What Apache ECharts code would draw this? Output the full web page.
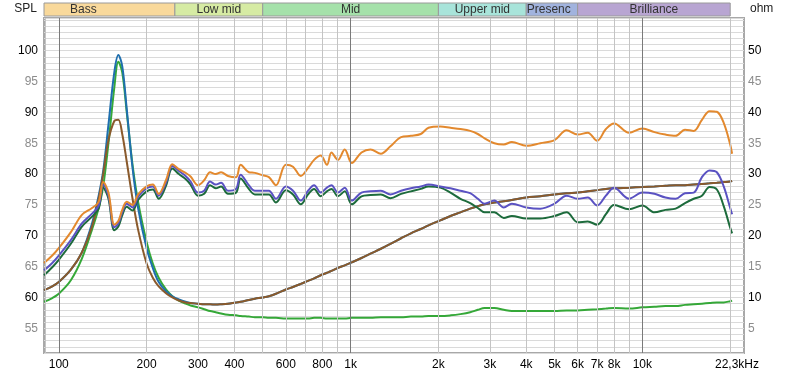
<!DOCTYPE html>
<html>
<head>
<meta charset="utf-8">
<script src="https://cdn.jsdelivr.net/npm/echarts@6/dist/echarts.min.js"></script>
<style>
html, body { margin: 0; padding: 0; background: #fff; }
#chart { width: 800px; height: 376px; }
</style>
</head>
<body>
<div id="chart"></div>
<script>
// frequency points (Hz) shared by every curve
var freqs = [
    89, 95, 100, 110, 120, 130, 137, 142, 148, 155,
    160, 165, 171, 179, 187, 200, 210, 220, 233, 245,
    258, 272, 283, 300, 315, 330, 345, 360, 380, 405,
    420, 448, 470, 500, 525, 555, 600, 635, 675, 715,
    750, 790, 830, 860, 905, 955, 1010, 1090, 1170, 1270,
    1370, 1490, 1610, 1740, 1850, 2030, 2200, 2380, 2570, 2730,
    2880, 3110, 3350, 3570, 4000, 4470, 5000, 5500, 6000, 6500,
    7000, 7500, 8000, 9000, 10000, 11000, 12000, 13000, 14000, 15000,
    16000, 17000, 18000, 19000, 20000, 20300
];

// SPL curves (dB)
var splOrange = [
    65.6, 66.8, 68.0, 70.6, 73.4, 74.5, 75.5, 78.7, 77.0, 71.8,
    72.4, 74.2, 75.5, 75.0, 76.7, 78.0, 78.3, 76.8, 79.0, 81.6,
    80.8, 80.2, 79.6, 78.2, 79.0, 80.3, 80.0, 80.3, 79.7, 79.5,
    81.5, 80.3, 80.2, 79.8, 79.5, 78.2, 81.5, 81.2, 79.7, 81.0,
    82.3, 83.0, 81.5, 83.5, 82.3, 84.0, 81.8, 83.5, 84.0, 83.3,
    84.5, 86.0, 86.2, 86.5, 87.5, 87.7, 87.5, 87.3, 87.0, 86.5,
    85.8, 85.0, 84.8, 85.2, 84.6, 85.0, 85.5, 87.1, 86.4, 86.7,
    85.4, 87.3, 88.2, 86.7, 87.4, 86.8, 86.4, 86.2, 87.2, 87.0,
    88.8, 90.2, 90.1, 88.3, 84.8, 83.3
];
var splPurple = [
    64.4, 65.6, 66.8, 69.3, 72.0, 73.6, 74.9, 78.3, 76.5, 71.4,
    72.0, 73.8, 75.2, 74.6, 76.3, 77.7, 78.0, 76.5, 78.6, 81.3,
    80.5, 79.7, 78.8, 77.0, 77.3, 78.8, 78.3, 78.6, 77.3, 77.6,
    79.9, 78.2, 77.3, 77.3, 77.3, 76.0, 78.0, 77.3, 75.7, 77.3,
    78.2, 77.0, 77.8, 78.2, 77.0, 77.8, 75.7, 77.0, 77.2, 77.3,
    76.7, 77.3, 77.7, 78.0, 78.3, 78.0, 77.7, 77.3, 76.9, 76.0,
    75.2, 75.7, 74.6, 75.2, 74.6, 74.4, 75.2, 76.5, 76.0, 76.2,
    74.9, 76.5, 77.8, 76.0, 77.0, 76.8, 76.2, 76.0, 76.9, 77.0,
    79.5, 80.6, 80.3, 78.0, 74.5, 73.5
];
var splGreen = [
    63.6, 64.9, 66.1, 68.7, 71.5, 73.1, 74.4, 77.8, 76.0, 70.9,
    71.5, 73.3, 74.7, 74.1, 75.8, 77.2, 77.5, 76.0, 78.1, 80.9,
    80.0, 79.2, 78.3, 76.5, 76.8, 78.2, 77.7, 78.0, 76.8, 77.0,
    79.3, 77.6, 76.7, 76.7, 76.7, 75.4, 77.4, 76.7, 75.1, 76.7,
    77.6, 76.4, 77.2, 77.6, 76.4, 77.2, 75.1, 76.4, 76.6, 76.7,
    76.1, 76.8, 77.2, 77.6, 78.0, 77.8, 77.0, 76.0, 75.3, 74.5,
    73.8, 73.8, 72.9, 73.2, 72.8, 72.8, 73.2, 73.8, 72.2, 72.3,
    71.8, 73.5, 75.0, 74.3, 74.9, 73.8, 74.2, 74.4, 75.3, 76.0,
    76.5, 77.9, 77.5, 74.8, 71.3, 70.4
];

// impedance curves (ohm)
var zLightGreen = [
    9.3, 9.9, 10.6, 12.8, 16.3, 21.0, 24.5, 28.0, 35.0, 44.0,
    48.2, 46.5, 40.0, 31.5, 25.5, 19.0, 15.5, 13.2, 11.3, 10.2,
    9.5, 9.0, 8.7, 8.4, 8.1, 7.8, 7.6, 7.4, 7.2, 7.1,
    7.0, 6.9, 6.8, 6.8, 6.7, 6.7, 6.6, 6.6, 6.6, 6.6,
    6.7, 6.7, 6.6, 6.6, 6.6, 6.6, 6.7, 6.7, 6.7, 6.8,
    6.8, 6.8, 6.9, 6.9, 7.0, 7.0, 7.1, 7.3, 7.6, 8.0,
    8.3, 8.3, 8.0, 7.8, 7.8, 7.8, 7.8, 7.9, 7.9, 8.0,
    8.1, 8.2, 8.3, 8.2, 8.4, 8.5, 8.6, 8.6, 8.8, 8.9,
    9.0, 9.1, 9.2, 9.2, 9.4, 9.5
];
var zTeal = [
    11.2, 11.8, 12.5, 14.5, 17.3, 22.0, 26.5, 30.5, 38.0, 46.5,
    49.3, 47.5, 40.5, 31.0, 24.5, 18.0, 14.8, 12.5, 11.0, 10.2,
    9.7, 9.3, 9.1, 9.0, 8.9, 8.9, 8.85, 8.9, 9.0, 9.2,
    9.3, 9.6, 9.8, 10.0, 10.2, 10.6, 11.3, 11.7, 12.2, 12.7,
    13.1, 13.6, 14.0, 14.3, 14.8, 15.2, 15.7, 16.4, 17.1, 17.9,
    18.7, 19.6, 20.4, 21.1, 21.7, 22.5, 23.2, 23.8, 24.4, 24.8,
    25.1, 25.4, 25.6, 25.8, 26.2, 26.4, 26.7, 26.9, 27.0, 27.2,
    27.4, 27.6, 27.7, 27.8, 27.9, 28.0, 28.1, 28.2, 28.2, 28.3,
    28.4, 28.5, 28.6, 28.7, 28.8, 28.9
];
var zBrown = [
    11.2, 11.8, 12.5, 14.5, 17.3, 21.5, 26.0, 30.0, 35.5, 38.6,
    38.8, 36.5, 32.0, 26.0, 21.0, 15.5, 13.2, 11.8, 10.7, 10.0,
    9.5, 9.2, 9.1, 9.0, 8.9, 8.9, 8.85, 8.9, 9.0, 9.2,
    9.3, 9.6, 9.8, 10.0, 10.2, 10.6, 11.3, 11.7, 12.2, 12.7,
    13.1, 13.6, 14.0, 14.3, 14.8, 15.2, 15.7, 16.4, 17.1, 17.9,
    18.7, 19.6, 20.4, 21.1, 21.7, 22.5, 23.2, 23.8, 24.4, 24.8,
    25.1, 25.4, 25.6, 25.8, 26.2, 26.4, 26.7, 26.9, 27.0, 27.2,
    27.4, 27.6, 27.7, 27.8, 27.9, 28.0, 28.1, 28.2, 28.2, 28.3,
    28.4, 28.5, 28.6, 28.7, 28.8, 28.9
];

// frequency bands shown above the plot
var bandNames = ['Bass', 'Low mid', 'Mid', 'Upper mid', 'Presence', 'Brilliance'];
var bandEdges = [89, 250, 500, 2000, 4000, 6000, 20000];
var bandColors = ['#f9d99b', '#d6eba3', '#a5e1aa', '#a8e4da', '#a1b3de', '#b8a5d2'];

// axis ticks
var xLabels = [100, 200, 300, 400, 600, 800, 1000, 2000, 3000, 4000, 5000, 6000, 7000, 8000, 10000, 22300];
var xGridLines = [90, 100, 200, 300, 400, 500, 600, 700, 800, 900, 1000,
    2000, 3000, 4000, 5000, 6000, 7000, 8000, 9000, 10000, 20000];
var splLabels = [55, 60, 65, 70, 75, 80, 85, 90, 95, 100];
var ohmLabels = [5, 10, 15, 20, 25, 30, 35, 40, 45, 50];

var FONT = 'Liberation Sans, Arial, sans-serif';

function pairs(vals) {
    return freqs.map(function (f, i) { return [f, vals[i]]; });
}

function line(name, vals, color, yIdx) {
    return {
        name: name,
        type: 'line',
        xAxisIndex: 0,
        yAxisIndex: yIdx,
        data: pairs(vals),
        smooth: 0.35,
        symbol: 'none',
        silent: true,
        lineStyle: { color: color, width: 2 }
    };
}

var chart = echarts.init(document.getElementById('chart'));

var bandAreas = bandNames.map(function (n, i) {
    var lbl = { show: true, position: 'inside', color: '#333', fontFamily: FONT, fontSize: 12 };
    if (n === 'Bass') lbl.offset = [-26, 0];
    if (n === 'Presence') {
        lbl.position = 'insideLeft';
        lbl.distance = 1;
        lbl.width = 51;
        lbl.overflow = 'truncate';
        lbl.ellipsis = '';
    }
    return [
        { xAxis: bandEdges[i], yAxis: 0, name: n, itemStyle: { color: bandColors[i], borderColor: '#9a9a9a', borderWidth: 1 }, label: lbl },
        { xAxis: bandEdges[i + 1], yAxis: 1 }
    ];
});

var options = {
    animation: false,
    backgroundColor: '#fff',
    grid: [
        { left: 44, right: 56, top: 18, bottom: 23, show: true, borderColor: '#a8a8a8', borderWidth: 2, backgroundColor: '#fff' },
        { left: 44, right: 56, top: 3, height: 13 }
    ],
    xAxis: [
        {
            type: 'log', gridIndex: 0, min: 89, max: 22300, logBase: 10,
            axisLine: { show: false }, axisTick: { show: false }, splitLine: { show: false },
            axisLabel: {
                customValues: xLabels, margin: 6, color: '#000', fontFamily: FONT, fontSize: 12,
                formatter: function (v) {
                    if (v >= 22000) return '{end|22,3kHz}';
                    return v >= 1000 ? (v / 1000) + 'k' : String(v);
                },
                rich: { end: { padding: [0, 14, 0, 0], fontFamily: FONT, fontSize: 12, color: '#000' } }
            }
        },
        {
            type: 'log', gridIndex: 1, min: 89, max: 22300, logBase: 10, show: false
        }
    ],
    yAxis: [
        {
            type: 'value', gridIndex: 0, min: 51, max: 105.3, interval: 1,
            name: 'SPL', nameLocation: 'end', nameGap: 9,
            nameTextStyle: { align: 'right', verticalAlign: 'middle', padding: [0, 7, 0, 0], color: '#222', fontFamily: FONT, fontSize: 12 },
            axisLine: { show: false }, axisTick: { show: false },
            splitLine: { show: true, lineStyle: { color: '#dadada', width: 1 } },
            axisLabel: {
                customValues: splLabels, margin: 6, fontFamily: FONT, fontSize: 12,
                color: function (v) { return Number(v) % 10 === 0 ? '#000' : '#8c8c8c'; }
            }
        },
        {
            type: 'value', gridIndex: 0, min: 1, max: 55.3, position: 'right',
            name: 'ohm', nameLocation: 'end', nameGap: 9,
            nameTextStyle: { align: 'left', verticalAlign: 'middle', padding: [0, 0, 0, 6], color: '#222', fontFamily: FONT, fontSize: 12 },
            axisLine: { show: false }, axisTick: { show: false }, splitLine: { show: false },
            axisLabel: {
                customValues: ohmLabels, margin: 4, fontFamily: FONT, fontSize: 12,
                color: function (v) { return Number(v) % 10 === 0 ? '#000' : '#8c8c8c'; }
            }
        },
        { type: 'value', gridIndex: 1, min: 0, max: 1, show: false }
    ],
    series: [
        {
            name: 'grid',
            type: 'line',
            xAxisIndex: 0,
            yAxisIndex: 0,
            data: [],
            silent: true,
            markLine: {
                silent: true,
                symbol: ['none', 'none'],
                label: { show: false },
                animation: false,
                data: xGridLines.map(function (f) {
                    var major = (f === 100 || f === 1000 || f === 10000);
                    return { xAxis: f, lineStyle: { type: 'solid', width: 1, color: major ? '#7a7a7a' : '#c4c4c4' } };
                })
            }
        },
        {
            name: 'bands',
            type: 'line',
            xAxisIndex: 1,
            yAxisIndex: 2,
            data: [],
            silent: true,
            markArea: { silent: true, animation: false, data: bandAreas }
        },
        line('Z green', zLightGreen, '#35a838', 1),
        line('Z teal', zTeal, '#1f6fae', 1),
        line('Z brown', zBrown, '#8a5a2c', 1),
        line('SPL green', splGreen, '#1d6b3c', 0),
        line('SPL purple', splPurple, '#5a52c2', 0),
        line('SPL orange', splOrange, '#e3892e', 0)
    ]
};

chart.setOption(options);
</script>
</body>
</html>
